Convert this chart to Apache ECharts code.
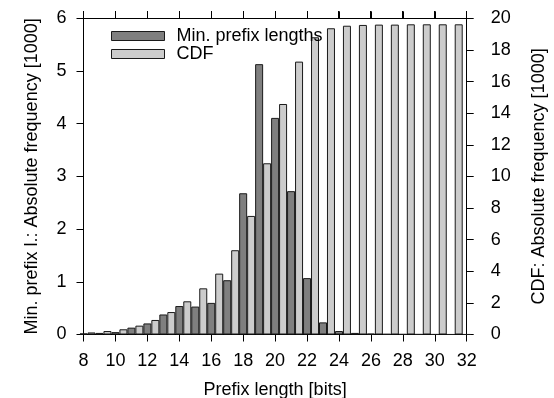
<!DOCTYPE html>
<html>
<head>
<meta charset="utf-8">
<script src="https://cdn.jsdelivr.net/npm/echarts@6/dist/echarts.min.js"></script>
<style>html,body{margin:0;padding:0;background:#fff}#c{width:554px;height:398px}</style>
</head>
<body>
<div id="c"></div>
<script>
// Prefix lengths (bits)
const lengths = [8,9,10,11,12,13,14,15,16,17,18,19,20,21,22,23,24,25,26,27,28,29,30,31,32];
// Min. prefix lengths, absolute frequency [1000]
const minPrefix = [0.02,0.03,0.045,0.13,0.21,0.38,0.54,0.53,0.60,1.03,2.68,5.13,4.11,2.72,1.07,0.23,0.066,0.03,0.015,0.008,0.005,0.003,0.002,0.001,0.001];
// CDF, absolute frequency [1000] (for lengths 8..31)
const cdf = [0.13,0.22,0.33,0.56,0.92,1.42,2.1,2.92,3.85,5.33,7.5,10.83,14.58,17.26,18.8,19.37,19.53,19.58,19.6,19.6,19.62,19.62,19.62,19.62];
const xTicks = [8,10,12,14,16,18,20,22,24,26,28,30,32];
const leftTicks = [0,1,2,3,4,5,6];
const rightTicks = [0,2,4,6,8,10,12,14,16,18,20];

const FONT = 'Liberation Sans, Arial, Helvetica, sans-serif';
const FS = 18;
const chart = echarts.init(document.getElementById('c'), null, {renderer:'canvas'});
const mkLine = () => ({show:true, onZero:false, lineStyle:{color:'#000', width:1}});
const mkTick = () => ({show:true, inside:false, length:7, lineStyle:{color:'#000', width:1}});
const lbl = {color:'#000', fontSize:FS, fontFamily:FONT};
const xMin = xTicks[0], xMax = xTicks[xTicks.length-1];
const yTop = leftTicks[leftTicks.length-1];

chart.setOption({
  animation:false,
  backgroundColor:'#fff',
  textStyle:{fontFamily:FONT},
  grid:{left:83.5, right:87.3, top:18.3, bottom:63.5, containLabel:false, outerBoundsMode:'none'},
  legend:{
    show:true, orient:'vertical', left:106, top:22, itemWidth:53, itemHeight:9, itemGap:0,
    icon:'rect',
    textStyle:{color:'#000', fontSize:FS, fontFamily:FONT, padding:[0,0,0,7]},
    itemStyle:{borderColor:'#1a1a1a', borderWidth:1},
    data:['Min. prefix lengths','CDF']
  },
  xAxis:[
    {type:'value', position:'bottom', min:xMin, max:xMax, interval:2,
     axisLine:mkLine(), axisTick:mkTick(), splitLine:{show:false},
     axisLabel:{...lbl, margin:18},
     name:'Prefix length [bits]', nameLocation:'middle', nameGap:47,
     nameTextStyle:{color:'#000', fontSize:FS, fontFamily:FONT}},
    {type:'value', position:'top', min:xMin, max:xMax, interval:2,
     axisLine:mkLine(), axisTick:mkTick(), splitLine:{show:false},
     axisLabel:{show:false}}
  ],
  yAxis:[
    {type:'value', position:'left', min:leftTicks[0], max:yTop, interval:1,
     axisLine:mkLine(), axisTick:mkTick(), splitLine:{show:false},
     axisLabel:{...lbl, margin:17},
     name:'Min. prefix l.: Absolute frequency [1000]', nameLocation:'middle', nameGap:42, nameRotate:90,
     nameTextStyle:{color:'#000', fontSize:FS, fontFamily:FONT}},
    {type:'value', position:'right', min:rightTicks[0], max:rightTicks[rightTicks.length-1], interval:2,
     axisLine:mkLine(), axisTick:mkTick(), splitLine:{show:false},
     axisLabel:{...lbl, margin:24},
     name:'CDF: Absolute frequency [1000]', nameLocation:'middle', nameGap:63, nameRotate:90,
     nameTextStyle:{color:'#000', fontSize:FS, fontFamily:FONT}}
  ],
  series:[
    {name:'Min. prefix lengths', type:'bar', xAxisIndex:0, yAxisIndex:0, barWidth:8, clip:true,
     itemStyle:{color:'#7f7f7f', borderColor:'#1a1a1a', borderWidth:1},
     data:lengths.map((n,i)=>[n, minPrefix[i]])},
    {name:'CDF', type:'bar', xAxisIndex:1, yAxisIndex:1, barWidth:8, clip:true,
     itemStyle:{color:'#cccccc', borderColor:'#1a1a1a', borderWidth:1},
     data:cdf.map((v,i)=>[lengths[i]+0.5, v])}
  ]
});

// Mirrored top ticks, positioned through the chart's own x scale
try {
  const els = xTicks.map(t => {
    const p = chart.convertToPixel({xAxisIndex:0, yAxisIndex:0}, [t, yTop]);
    const x = Math.round(p[0] - 0.5) + 0.5;
    const y = Math.round(p[1]);
    return {type:'line', silent:true, z:100,
            shape:{x1:x, y1:y - 7, x2:x, y2:y},
            style:{stroke:'#000', lineWidth:1}};
  });
  chart.setOption({graphic:{elements:els}});
} catch (e) { console.error(e); }
</script>
</body>
</html>
